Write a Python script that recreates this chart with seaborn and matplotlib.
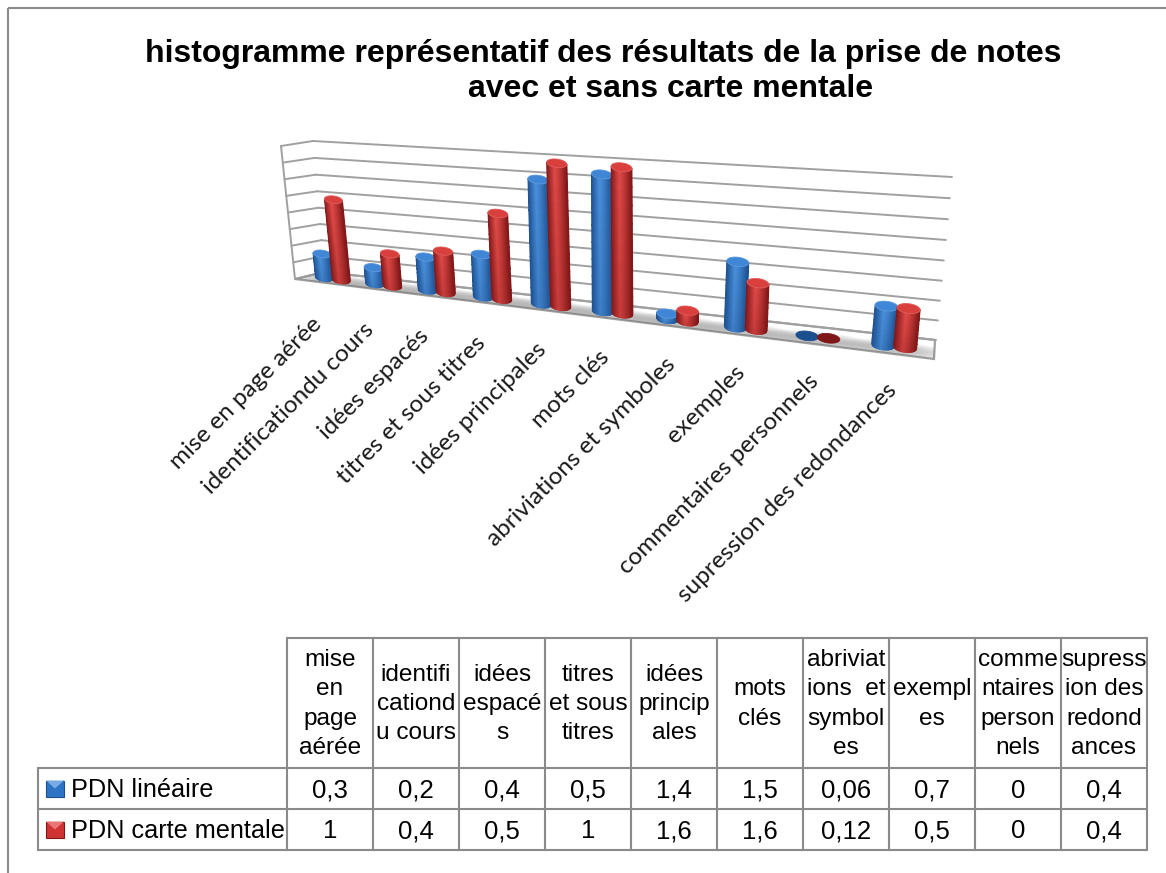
# Histogramme 3D (style Excel) : barres seaborn projetees en perspective
import numpy as np
import pandas as pd
import matplotlib
matplotlib.use("Agg")
import matplotlib.pyplot as plt
import seaborn as sns
from matplotlib.collections import PolyCollection
from matplotlib.patches import Ellipse, Polygon, Rectangle
from matplotlib.transforms import Transform

# Donnees
categories = [
    "mise en page aérée",
    "identificationdu cours",
    "idées espacés",
    "titres et sous titres",
    "idées principales",
    "mots clés",
    "abriviations et symboles",
    "exemples",
    "commentaires personnels",
    "supression des redondances",
]
entetes = [
    "mise\nen\npage\naérée",
    "identifi\ncationd\nu cours",
    "idées\nespacé\ns",
    "titres\net sous\ntitres",
    "idées\nprincip\nales",
    "mots\nclés",
    "abriviat\nions  et\nsymbol\nes",
    "exempl\nes",
    "comme\nntaires\nperson\nnels",
    "supress\nion des\nredond\nances",
]
pdn_lineaire = [0.3, 0.2, 0.4, 0.5, 1.4, 1.5, 0.06, 0.7, 0, 0.4]
pdn_carte = [1, 0.4, 0.5, 1, 1.6, 1.6, 0.12, 0.5, 0, 0.4]
series = ["PDN linéaire", "PDN carte mentale"]
graduations = [0, 0.2, 0.4, 0.6, 0.8, 1.0, 1.2, 1.4, 1.6]

titre_1 = "histogramme représentatif des résultats de la prise de notes"
titre_2 = "avec et sans carte mentale"

GRIS = "#8a8a8a"
GRIS_MUR = "#a0a0a0"
# bord, centre, reflet, couvercle
BLEU = ("#1c4f8e", "#2e74c4", "#4a90dc", "#3f86d6")
ROUGE = ("#7f1717", "#cf3333", "#e04a48", "#d93f3c")

# Calage de la perspective : (categorie, valeur) et position en pixels
calage_src = [(0, 0), (1, 0), (2, 0), (3, 0), (4, 0), (5, 0), (6, 0), (7, 0), (8, 0), (9, 0),
              (0, 1), (1, 0.4), (2, 0.5), (3, 1), (4, 1.6), (4, 1.4), (5, 1.5), (7, 0.7), (7, 0.5), (9, 0.4)]
calage_dst = [(333, 278), (384, 285), (436, 291), (492, 298), (551, 304), (613, 312), (677, 318),
              (747, 329), (818, 336), (895, 347),
              (325, 196), (381, 255), (434, 252), (489, 214), (547, 162), (548, 180),
              (612, 175), (748, 263), (746, 284), (897, 307)]


def homographie(src, dst):
    A, b = [], []
    for (x, y), (u, v) in zip(src, dst):
        A.append([x, y, 1, 0, 0, 0, -u * x, -u * y])
        A.append([0, 0, 0, x, y, 1, -v * x, -v * y])
        b += [u, v]
    sol_h = np.linalg.lstsq(np.array(A, float), np.array(b, float), rcond=None)[0]
    return np.append(sol_h, 1).reshape(3, 3)


class Perspective(Transform):
    input_dims = 2
    output_dims = 2
    has_inverse = False

    def __init__(self, src, dst):
        super().__init__()
        self.H = homographie(src, dst)

    def transform_non_affine(self, values):
        values = np.asarray(values, float)
        p = np.column_stack([values, np.ones(len(values))]) @ self.H.T
        return p[:, :2] / p[:, 2:]


df = pd.DataFrame({
    "categorie": categories * 2,
    "valeur": pdn_lineaire + pdn_carte,
    "serie": [series[0]] * 10 + [series[1]] * 10,
})

sns.set_theme(style="white")
plt.rcParams["font.family"] = ["Liberation Sans", "DejaVu Sans"]

fig = plt.figure(figsize=(11.66, 8.73), dpi=100)
ax = fig.add_axes([0, 0, 1, 1])
sns.barplot(data=df, x="categorie", y="valeur", hue="serie", hue_order=series,
            palette=[BLEU[1], ROUGE[1]], width=0.63, gap=0, errorbar=None,
            saturation=1, legend=False, ax=ax)
ax.axis("off")

# Axe en pixels pour la mise en page
pix = fig.add_axes([0, 0, 1, 1])
pix.set_xlim(0, 1166)
pix.set_ylim(873, 0)
pix.axis("off")
pix.set_autoscale_on(False)

# Plan des barres : (categorie, valeur) -> pixels
plan = Perspective(calage_src, calage_dst)
# Mur du fond : (0..1, valeur) -> pixels
mur = Perspective([(0, 0), (1, 0), (1, 1.6), (0, 1.6)],
                  [(324, 272), (936, 340), (952, 177), (313, 141)])

# Cadre exterieur
pix.plot([8, 8], [873, 8], color=GRIS, lw=1.5, solid_capstyle="butt")
pix.plot([8, 1166], [8, 8], color=GRIS, lw=1.5, solid_capstyle="butt")

# Titre
pix.text(145, 62, titre_1, fontsize=23, fontweight="bold", color="black", ha="left", va="baseline")
pix.text(468, 97, titre_2, fontsize=23, fontweight="bold", color="black", ha="left", va="baseline")

# Sol
sol = Polygon([(295, 279), (324, 272), (935, 340), (934, 359)], closed=True,
              facecolor="white", edgecolor=GRIS_MUR, lw=1.6, zorder=1)
pix.add_patch(sol)

# Murs et graduations
coin_avant_haut = np.array([281, 146])
coin_avant_bas = np.array([295, 279])
for k, v in enumerate(graduations):
    pix.plot([0, 1], [v, v], transform=mur + pix.transData, color=GRIS_MUR, lw=1.4, zorder=1)
    avant = coin_avant_bas + (coin_avant_haut - coin_avant_bas) * v / graduations[-1]
    fond = mur.transform_non_affine(np.array([[0, v]]))[0]
    pix.plot([avant[0], fond[0]], [avant[1], fond[1]], color=GRIS_MUR, lw=1.4, zorder=1)
pix.plot([coin_avant_haut[0], coin_avant_bas[0]], [coin_avant_haut[1], coin_avant_bas[1]],
         color=GRIS_MUR, lw=1.4, zorder=1)

# Ombres sur le sol
for i in range(len(categories)):
    c = plan.transform_non_affine(np.array([[i, 0]]))[0]
    for f in np.linspace(1.0, 0.4, 8):
        om = Ellipse((c[0], c[1] + 3), (84 + i * 4) * f, 17 * f, angle=6,
                     facecolor="#6a6a6a", alpha=0.06, edgecolor="none", zorder=1.5)
        pix.add_patch(om)
        om.set_clip_path(sol)


def melange(c1, c2, t):
    return tuple(np.array(matplotlib.colors.to_rgb(c1)) * (1 - t) + np.array(matplotlib.colors.to_rgb(c2)) * t)


def cylindre(bar, teintes, i, z):
    # la barre seaborn donne la position et la hauteur, le cylindre la remplace
    x0, w, h = bar.get_x(), bar.get_width(), bar.get_height()
    bar.set_visible(False)
    xc = x0 + w / 2
    # largeur et ecart en pixels, a peu pres comme la perspective d'Excel
    cote = np.sign(xc - i)
    demi = 9 + 2.5 * i / 9
    dx = cote * (8.5 + 2.5 * i / 9)
    bas = plan.transform_non_affine(np.array([[i, 0]]))[0] + [dx, cote * 1.2]
    haut = plan.transform_non_affine(np.array([[i, h]]))[0] + [dx, cote * 1.2]
    pente = 0.11
    b = demi * 0.42

    def point(t, e):
        p = bas + (haut - bas) * e
        return p + [t * demi, t * demi * pente + b * np.sqrt(max(0, 1 - t ** 2))]

    polys, couleurs = [], []
    ts = np.linspace(-1, 1, 25)
    es = np.linspace(0, 1, 9)
    for t1, t2 in zip(ts[:-1], ts[1:]):
        tm = (t1 + t2) / 2
        if tm < -0.2:
            base = melange(teintes[0], teintes[2], (tm + 1) / 0.8)
        else:
            base = melange(teintes[2], teintes[0], ((tm + 0.2) / 1.2) ** 1.3)
        for e1, e2 in zip(es[:-1], es[1:]):
            polys.append([point(t1, e1), point(t2, e1), point(t2, e2), point(t1, e2)])
            couleurs.append(melange(teintes[0], base, 0.72 + 0.28 * (e1 + e2) / 2))
    if h > 0:
        pix.add_collection(PolyCollection(polys, facecolors=couleurs, edgecolors=couleurs,
                                          linewidths=0.7, zorder=z + 0.1))
    # Couvercle
    th = np.linspace(0, 2 * np.pi, 60)
    cap = np.column_stack([haut[0] + np.cos(th) * demi,
                           haut[1] + np.cos(th) * demi * pente + np.sin(th) * b])
    pix.add_patch(Polygon(cap, closed=True, facecolor=teintes[3] if h > 0 else teintes[0],
                          edgecolor=melange(teintes[3], "white", 0.15) if h > 0 else teintes[0],
                          lw=0.6, zorder=z + 0.2))


for i in range(len(categories)):
    cylindre(ax.containers[0][i], BLEU, i, 3 + i)
    cylindre(ax.containers[1][i], ROUGE, i, 3.5 + i)

# Etiquettes des categories
for i, nom in enumerate(categories):
    c = plan.transform_non_affine(np.array([[i, 0]]))[0]
    pix.text(c[0] - 15 + 1.6 * i, c[1] + 42 - 0.2 * i, nom, rotation=45, rotation_mode="anchor",
             ha="right", va="center", fontsize=17.5, family="Lato", color="#1a1a1a")

# Table de donnees
x_cols = [287 + 86 * k for k in range(11)]
y_lignes = [638, 768, 809, 850]
x_gauche = 38
for y in y_lignes[:1]:
    pix.plot([x_cols[0], x_cols[-1]], [y, y], color=GRIS, lw=1.5)
for y in y_lignes[1:]:
    pix.plot([x_gauche, x_cols[-1]], [y, y], color=GRIS, lw=1.5)
for x in x_cols:
    pix.plot([x, x], [y_lignes[0], y_lignes[-1]], color=GRIS, lw=1.5)
pix.plot([x_gauche, x_gauche], [y_lignes[1], y_lignes[-1]], color=GRIS, lw=1.5)

for k, ent in enumerate(entetes):
    pix.text((x_cols[k] + x_cols[k + 1]) / 2, (y_lignes[0] + y_lignes[1]) / 2 + 1, ent,
             ha="center", va="center", fontsize=17.6, linespacing=1.44, color="black")

for r, (nom, valeurs, teintes) in enumerate(zip(series, [pdn_lineaire, pdn_carte], [BLEU, ROUGE])):
    ym = (y_lignes[r + 1] + y_lignes[r + 2]) / 2
    pix.text(71, ym + 1.5, nom, ha="left", va="center", fontsize=18.2, color="black")
    pix.add_patch(Rectangle((46, ym - 8), 18, 16, facecolor=teintes[1], edgecolor=teintes[0], lw=0.8))
    pix.add_patch(Polygon([(46, ym - 8), (64, ym - 8), (55, ym)], closed=True,
                          facecolor=melange(teintes[2], "white", 0.25), edgecolor="none"))
    for k, v in enumerate(valeurs):
        pix.text((x_cols[k] + x_cols[k + 1]) / 2, ym + 2, str(v).replace(".", ","),
                 ha="center", va="center", fontsize=18.5, color="black")

fig.savefig("out.png", dpi=100, facecolor="white")
